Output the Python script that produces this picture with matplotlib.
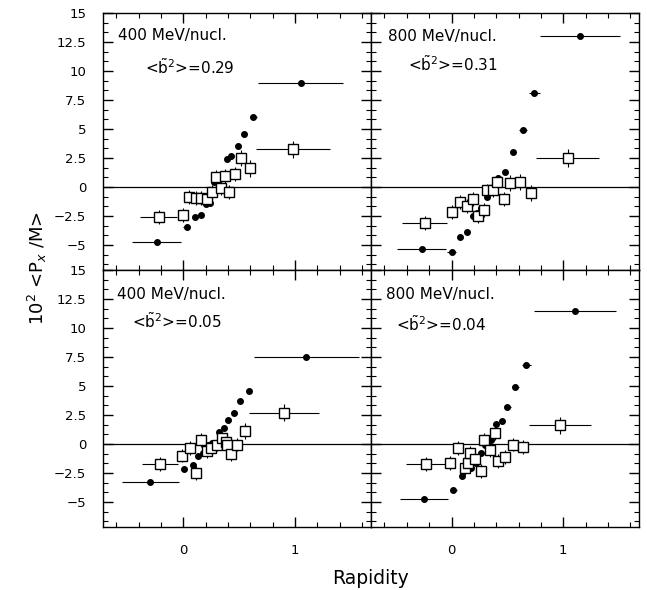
# Flux transverse <Px/M> en fonction de la rapidité, 4 panneaux

import matplotlib.pyplot as plt
from matplotlib.ticker import MultipleLocator, AutoMinorLocator, FuncFormatter

plt.rcParams.update({
    'font.family': 'DejaVu Sans',
    'mathtext.fontset': 'dejavusans',
    'axes.linewidth': 1.0,
})

# 400 MeV/nucl., <b~2> = 0.29
a_dot_x = [-0.24, 0.03, 0.10, 0.155, 0.20, 0.24, 0.275, 0.31, 0.35, 0.39, 0.43, 0.485, 0.545, 0.625, 1.05]
a_dot_y = [-4.7, -3.45, -2.6, -2.45, -1.45, -1.35, 0.4, 0.65, 0.85, 2.45, 2.65, 3.55, 4.55, 6.0, 9.0]
a_dot_xerr = [0.22, 0.03, 0.02, 0.02, 0.02, 0.02, 0.02, 0.02, 0.02, 0.02, 0.02, 0.02, 0.02, 0.03, 0.38]
a_sq_x = [-0.22, 0.0, 0.055, 0.11, 0.155, 0.215, 0.26, 0.29, 0.335, 0.375, 0.41, 0.46, 0.52, 0.60, 0.98]
a_sq_y = [-2.6, -2.45, -0.85, -0.95, -0.95, -1.05, -0.4, 0.85, -0.1, 0.95, -0.45, 1.1, 2.5, 1.6, 3.25]
a_sq_xerr = [0.165, 0, 0, 0, 0, 0, 0, 0, 0, 0, 0, 0, 0, 0, 0.33]
a_sq_yerr = [0.6, 0.6, 0.6, 0.6, 0.6, 0.6, 0.6, 0.6, 0.6, 0.6, 0.6, 0.6, 0.7, 0.7, 0.75]

# 800 MeV/nucl., <b~2> = 0.31
b_dot_x = [-0.265, 0.0, 0.08, 0.135, 0.19, 0.225, 0.26, 0.315, 0.37, 0.42, 0.48, 0.55, 0.64, 0.74, 1.15]
b_dot_y = [-5.35, -5.6, -4.3, -3.9, -2.5, -2.2, -1.85, -0.9, -0.35, 0.8, 1.3, 3.05, 4.9, 8.1, 13.0]
b_dot_xerr = [0.22, 0.04, 0.02, 0.02, 0.02, 0.02, 0.02, 0.02, 0.02, 0.02, 0.02, 0.03, 0.04, 0.05, 0.355]
b_sq_x = [-0.24, 0.0, 0.075, 0.14, 0.19, 0.24, 0.295, 0.315, 0.375, 0.405, 0.47, 0.525, 0.61, 0.71, 1.04]
b_sq_y = [-3.1, -2.15, -1.3, -1.65, -1.0, -2.5, -2.0, -0.3, -0.3, 0.4, -1.05, 0.35, 0.45, -0.55, 2.5]
b_sq_xerr = [0.2, 0, 0, 0, 0, 0, 0, 0, 0, 0, 0, 0, 0, 0, 0.28]
b_sq_yerr = [0.6, 0.6, 0.6, 0.6, 0.6, 0.6, 0.6, 0.6, 0.6, 0.6, 0.6, 0.7, 0.7, 0.7, 0.75]

# 400 MeV/nucl., <b~2> = 0.05
c_dot_x = [-0.295, 0.01, 0.09, 0.13, 0.18, 0.22, 0.26, 0.29, 0.32, 0.36, 0.40, 0.45, 0.505, 0.585, 1.10]
c_dot_y = [-3.3, -2.15, -1.85, -1.05, -0.8, -0.05, 0.1, -0.05, 1.05, 1.35, 2.05, 2.7, 3.7, 4.6, 7.5]
c_dot_xerr = [0.255, 0.02, 0.02, 0.02, 0.02, 0.02, 0.02, 0.02, 0.02, 0.02, 0.02, 0.02, 0.02, 0.02, 0.47]
c_sq_x = [-0.21, -0.015, 0.06, 0.11, 0.155, 0.215, 0.25, 0.305, 0.345, 0.38, 0.395, 0.425, 0.48, 0.555, 0.90]
c_sq_y = [-1.75, -1.0, -0.35, -2.5, 0.3, -0.65, -0.35, -0.05, 0.5, 0.15, -0.05, -0.85, -0.05, 1.1, 2.7]
c_sq_xerr = [0.16, 0, 0, 0, 0, 0, 0, 0, 0, 0, 0, 0, 0, 0, 0.31]
c_sq_yerr = [0.6, 0.6, 0.6, 0.6, 0.6, 0.6, 0.6, 0.6, 0.6, 0.6, 0.6, 0.6, 0.6, 0.7, 0.75]

# 800 MeV/nucl., <b~2> = 0.04
d_dot_x = [-0.25, 0.015, 0.09, 0.135, 0.175, 0.22, 0.265, 0.30, 0.35, 0.395, 0.45, 0.50, 0.57, 0.67, 1.105]
d_dot_y = [-4.75, -3.95, -2.75, -2.1, -2.05, -1.65, -0.75, -0.05, 0.35, 1.7, 1.95, 3.15, 4.9, 6.8, 11.5]
d_dot_xerr = [0.215, 0.03, 0.02, 0.02, 0.02, 0.02, 0.02, 0.02, 0.02, 0.02, 0.02, 0.03, 0.03, 0.04, 0.37]
d_sq_x = [-0.225, -0.015, 0.06, 0.12, 0.15, 0.165, 0.21, 0.265, 0.295, 0.34, 0.385, 0.42, 0.48, 0.55, 0.64, 0.97]
d_sq_y = [-1.7, -1.65, -0.35, -2.05, -1.65, -0.8, -1.3, -2.3, 0.35, -0.5, 0.95, -1.45, -1.1, -0.05, -0.3, 1.6]
d_sq_xerr = [0.18, 0, 0, 0, 0, 0, 0, 0, 0, 0, 0, 0, 0, 0, 0, 0.28]
d_sq_yerr = [0.6, 0.6, 0.6, 0.6, 0.6, 0.6, 0.6, 0.6, 0.6, 0.6, 0.6, 0.6, 0.6, 0.6, 0.6, 0.75]

energies = ['400 MeV/nucl.', '800 MeV/nucl.', '400 MeV/nucl.', '800 MeV/nucl.']
b2_values = ['0.29', '0.31', '0.05', '0.04']


def panel(ax, dx, dy, dxerr, sx, sy, sxerr, syerr):
    """Un panneau : points pleins + carrés ouverts"""
    ax.axhline(0, color='black', lw=0.9, zorder=1)
    ax.errorbar(dx, dy, xerr=dxerr, yerr=0.15, fmt='o', ms=4, color='black',
                ecolor='black', elinewidth=0.8, capsize=0, zorder=3)
    ax.errorbar(sx, sy, xerr=sxerr, yerr=syerr, fmt='s', ms=7.5, mfc='white',
                mec='black', mew=1.0, ecolor='black', elinewidth=0.8,
                capsize=0, zorder=4)


def style(ax):
    """Axes, graduations"""
    ax.set_xlim(-0.72, 1.68)
    ax.set_ylim(-7.15, 15)
    ax.xaxis.set_major_locator(MultipleLocator(1))
    ax.xaxis.set_minor_locator(AutoMinorLocator(5))
    ax.yaxis.set_major_locator(MultipleLocator(2.5))
    ax.yaxis.set_minor_locator(AutoMinorLocator(3))
    ax.tick_params(which='both', direction='in', top=True, right=True,
                   labelsize=9.5, color='black')
    ax.tick_params(which='major', length=7, width=1)
    ax.tick_params(which='minor', length=3.5, width=0.8)
    ax.tick_params(axis='y', pad=12)
    ax.tick_params(axis='x', pad=12)
    ax.yaxis.set_major_formatter(FuncFormatter(lambda v, p: ('%g' % v).replace('-', '\u2212')))


fig, axes = plt.subplots(2, 2, figsize=(6.47, 5.9), dpi=100)
fig.subplots_adjust(left=0.159, right=0.988, top=0.978, bottom=0.107,
                    wspace=0, hspace=0)

data = [
    (a_dot_x, a_dot_y, a_dot_xerr, a_sq_x, a_sq_y, a_sq_xerr, a_sq_yerr),
    (b_dot_x, b_dot_y, b_dot_xerr, b_sq_x, b_sq_y, b_sq_xerr, b_sq_yerr),
    (c_dot_x, c_dot_y, c_dot_xerr, c_sq_x, c_sq_y, c_sq_xerr, c_sq_yerr),
    (d_dot_x, d_dot_y, d_dot_xerr, d_sq_x, d_sq_y, d_sq_xerr, d_sq_yerr),
]
title_pos = [(0.056, 0.914), (0.062, 0.91), (0.051, 0.903), (0.056, 0.903)]
b2_pos = [(0.157, 0.79), (0.136, 0.80), (0.11, 0.80), (0.093, 0.79)]

for i, ax in enumerate(axes.flat):
    panel(ax, *data[i])
    style(ax)
    ax.text(*title_pos[i], energies[i], transform=ax.transAxes,
            ha='left', va='center', fontsize=11)
    ax.text(*b2_pos[i], r'<$\tilde{\mathrm{b}}^{2}$>=' + b2_values[i],
            transform=ax.transAxes, ha='left', va='center', fontsize=11)
    if i < 2:
        ax.tick_params(labelbottom=False)
    if i % 2 == 1:
        ax.tick_params(labelleft=False)

fig.text(0.058, 0.546, r'10$^2$ <P$_x$ /M>', rotation=90,
         ha='center', va='center', fontsize=13)
fig.text(0.572, 0.02, 'Rapidity', ha='center', va='center', fontsize=13.5)

plt.savefig('out.png', dpi=100)
